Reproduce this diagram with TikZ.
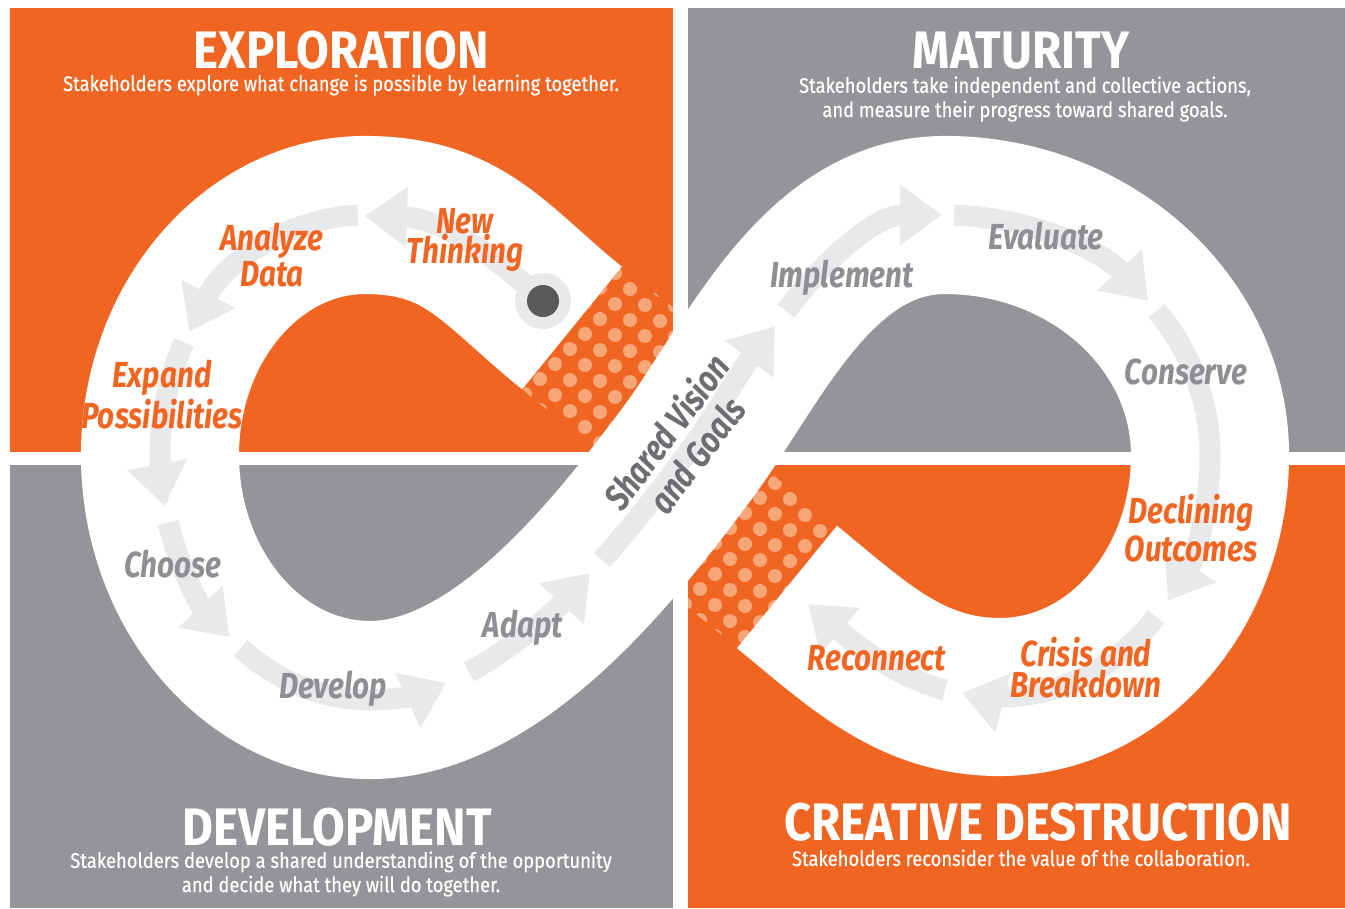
\documentclass[tikz,border=0pt]{standalone}
\usepackage{fontspec}
\setmainfont{Fira Sans}
\newfontfamily\headfont{Fira Sans}[FakeStretch=0.82]
\newfontfamily\titlefont{Fira Sans}[FakeStretch=0.9]
\newfontfamily\notefont{Fira Sans}[FakeStretch=0.87, FakeBold=0.4]
\usetikzlibrary{arrows.meta}

\definecolor{cporange}{HTML}{F16522}
\definecolor{cpgray}{HTML}{939598}
\definecolor{cplabel}{HTML}{8D8F92}
\definecolor{cpdark}{HTML}{6D6E71}
\definecolor{cparrow}{HTML}{E8E9EA}
\definecolor{cpdots}{HTML}{F7A677}
\definecolor{cpknob}{HTML}{58595B}

\tikzset{
  flow/.style={draw=cparrow, line width=0.21cm, -{Triangle[length=0.42cm,width=0.58cm]}},
  phase/.style={text=white, font=\titlefont\bfseries\fontsize{15}{15}\selectfont},
  phasenote/.style={text=white, align=center, font=\notefont\fontsize{6}{6.9}\selectfont},
  steplabel/.style={align=center, inner sep=0pt, font=\headfont\bfseries\itshape\fontsize{10.3}{8.8}\selectfont},
  warm/.style={steplabel, text=cporange},
  cool/.style={steplabel, text=cplabel}
}

\begin{document}
\begin{tikzpicture}[x=0.01cm, y=-0.01cm]
  \fill[white] (0,0) rectangle (1345,908);
  % four phases
  \fill[cporange] (10,8) rectangle (673,452);
  \fill[cpgray] (688,8) rectangle (1345,452);
  \fill[cpgray] (10,465) rectangle (673,908);
  \fill[cporange] (688,465) rectangle (1345,908);

  % dotted hidden strand
  \begin{scope}
    \clip (10,8) rectangle (673,452);
    \clip (622,267) -- (523,390) -- (640,485) -- (740,360) -- cycle;
    \foreach \i in {-7,...,7}
      \foreach \j in {-7,...,7}
        \fill[cpdots] ({600+15*\i-15*\j},{350+16*\i+15*\j}) circle[radius=7];
  \end{scope}
  \begin{scope}
    \clip (688,465) rectangle (1345,908);
    \clip (836,526) -- (738,648) -- (644,572) -- (742,450) -- cycle;
    \foreach \i in {-7,...,7}
      \foreach \j in {-7,...,7}
        \fill[cpdots] ({760+15*\i-15*\j},{560+16*\i+15*\j}) circle[radius=7];
  \end{scope}

  % the band
  \draw[white, line width=1.58cm] (572,328) .. controls (494,265) and (465,215) .. (365,215)
    .. controls (252,215) and (160,323) .. (160,455)
    .. controls (160,590) and (254,700) .. (370,700)
    .. controls (500,700) and (620,543) .. (686,455)
    .. controls (752,367) and (815,215) .. (945,215)
    .. controls (1091,215) and (1210,323) .. (1210,455)
    .. controls (1210,589) and (1116,697) .. (1000,697)
    .. controls (910,697) and (857,644) .. (787,587);

  % arrows along the band
  \draw[flow] (543,301) .. controls (495,255) and (440,218) .. (365,216);
  \draw[flow] ([shift={(365,455)}]-92:205 and 240) arc[start angle=-92, end angle=-149, x radius=205, y radius=240];
  \draw[flow] ([shift={(365,455)}]-152:205 and 240) arc[start angle=-152, end angle=-180, x radius=205, y radius=240]
    arc[start angle=180, end angle=168, x radius=210, y radius=245];
  \draw[flow] ([shift={(370,455)}]164:210 and 245) arc[start angle=164, end angle=132, x radius=210, y radius=245];
  \draw[flow] ([shift={(370,455)}]128:210 and 245) arc[start angle=128, end angle=90, x radius=210, y radius=245]
    .. controls (396,700) and (422,694) .. (446,683);
  \draw[flow] (469,672) .. controls (513,648) and (554,612) .. (590,573);
  \draw[flow] (602,560) .. controls (635,523) and (664,485) .. (686,455)
    .. controls (714,418) and (741,370) .. (775,326);
  \draw[flow] (786,311) .. controls (826,258) and (876,215) .. (942,215);
  \draw[flow] ([shift={(945,455)}]-88:265 and 240) arc[start angle=-88, end angle=-40, x radius=265, y radius=240];
  \draw[flow] ([shift={(945,455)}]-37:265 and 240) arc[start angle=-37, end angle=0, x radius=265, y radius=240]
    arc[start angle=0, end angle=37, x radius=210, y radius=242];
  \draw[flow] ([shift={(1000,455)}]42:210 and 242) arc[start angle=42, end angle=90, x radius=210, y radius=242]
    .. controls (986,697) and (974,696) .. (962,693);
  \draw[flow] (945,690) .. controls (893,676) and (853,642) .. (808,604);

  % start knob
  \fill[cparrow] (543,301) circle[radius=28];
  \fill[cpknob] (543,301) circle[radius=16];

  % step labels
  \node[warm] (newthinking) at (465,240) {New\\Thinking};
  \node[warm] (analyze) at (272,255) {Analyze\\Data};
  \node[warm] (expand) at (162,395) {Expand\\Possibilities};
  \node[cool, anchor=base] (choose) at (173,577) {Choose};
  \node[cool, anchor=base] (develop) at (333,698) {Develop};
  \node[cool, anchor=base] (adapt) at (523,637) {Adapt};
  \node[steplabel, text=cpdark, rotate=53, font=\headfont\bfseries\itshape\fontsize{10.3}{10.8}\selectfont] (vision) at (681,443) {Shared Vision\\and Goals};
  \node[cool, anchor=base] (implement) at (842,287) {Implement};
  \node[cool, anchor=base] (evaluate) at (1046,249) {Evaluate};
  \node[cool, anchor=base] (conserve) at (1186,384) {Conserve};
  \node[warm] (declining) at (1191,528) {Declining\\Outcomes};
  \node[warm] (crisis) at (1086,668) {Crisis and\\Breakdown};
  \node[warm, anchor=base] (reconnect) at (877,670) {Reconnect};

  % phase titles
  \node[phase, anchor=base] (exploration) at (341,68) {EXPLORATION};
  \node[phasenote, anchor=base] (explorationnote) at (341,91) {Stakeholders explore what change is possible by learning together.};
  \node[phase, anchor=base] (maturity) at (1021,68) {MATURITY};
  \node[phasenote] (maturitynote) at (1025,99) {Stakeholders take independent and collective actions,\\and measure their progress toward shared goals.};
  \node[phase, anchor=base] (development) at (337,845) {DEVELOPMENT};
  \node[phasenote] (developmentnote) at (341,874) {Stakeholders develop a shared understanding of the opportunity\\and decide what they will do together.};
  \node[phase, anchor=base] (destruction) at (1038,840) {CREATIVE DESTRUCTION};
  \node[phasenote, anchor=base] (destructionnote) at (1021,866) {Stakeholders reconsider the value of the collaboration.};
\end{tikzpicture}
\end{document}
